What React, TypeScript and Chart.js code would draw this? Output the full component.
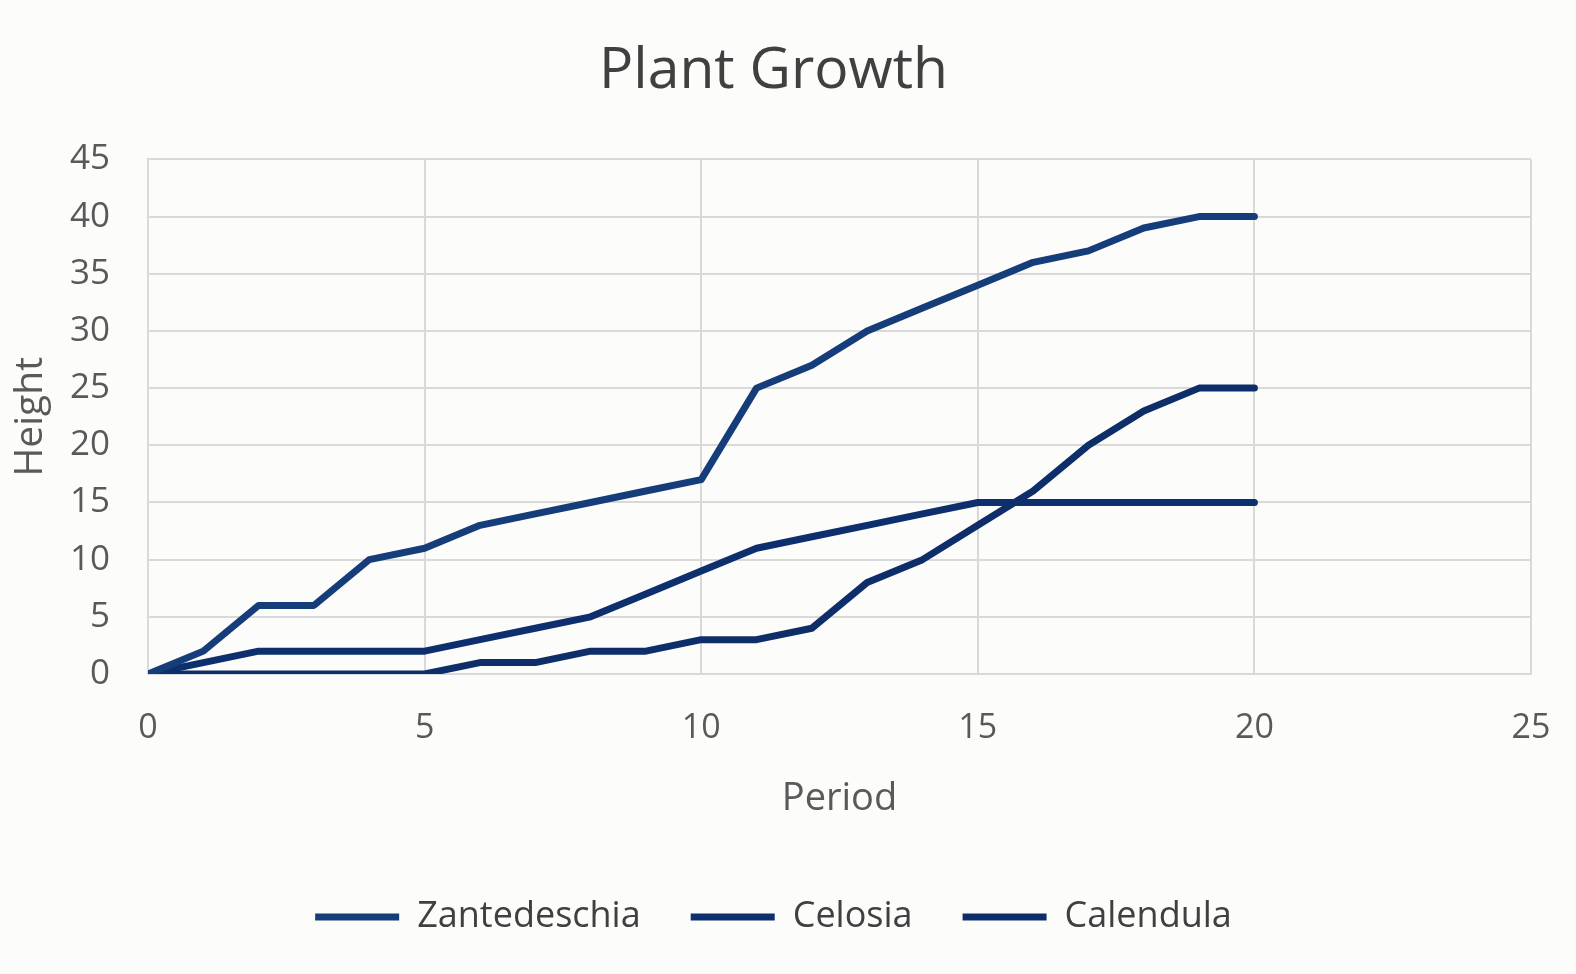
import React, { useEffect, useRef } from "react";
import { Chart, registerables } from "chart.js";

Chart.register(...registerables);

const periods = [0, 1, 2, 3, 4, 5, 6, 7, 8, 9, 10, 11, 12, 13, 14, 15, 16, 17, 18, 19, 20];
const zantedeschia = [0, 2, 6, 6, 10, 11, 13, 14, 15, 16, 17, 25, 27, 30, 32, 34, 36, 37, 39, 40, 40];
const celosia = [0, 1, 2, 2, 2, 2, 3, 4, 5, 7, 9, 11, 12, 13, 14, 15, 15, 15, 15, 15, 15];
const calendula = [0, 0, 0, 0, 0, 0, 1, 1, 2, 2, 3, 3, 4, 8, 10, 13, 16, 20, 23, 25, 25];

const seriesNames = ["Zantedeschia", "Celosia", "Calendula"];
const seriesColors = ["#153D7A", "#0D2F6E", "#0E2E6A"];

const FONT = "'Open Sans', 'DejaVu Sans', sans-serif";

export default function App() {
  const ref = useRef<HTMLCanvasElement | null>(null);

  useEffect(() => {
    if (!ref.current) return;
    const values = [zantedeschia, celosia, calendula];
    const bgPlugin = {
      id: "bg",
      beforeDraw(chart: any) {
        const ctx = chart.ctx;
        ctx.save();
        ctx.fillStyle = "#FCFCFA";
        ctx.fillRect(0, 0, chart.width, chart.height);
        ctx.restore();
      },
    };
    const chart = new Chart(ref.current, {
      type: "line",
      data: {
        datasets: seriesNames.map((name, i) => ({
          label: name,
          data: periods.map((p, j) => ({ x: p, y: values[i][j] })),
          borderColor: seriesColors[i],
          backgroundColor: seriesColors[i],
          borderWidth: 7,
          pointRadius: 0,
          pointStyle: "line",
          tension: 0,
          borderCapStyle: "round" as const,
          borderJoinStyle: "round" as const,
        })),
      },
      options: {
        animation: false,
        responsive: false,
        devicePixelRatio: 1,
        layout: { padding: { left: 16, right: 45, top: 0, bottom: 29 } },
        plugins: {
          tooltip: { enabled: false },
          title: {
            display: true,
            text: "Plant Growth",
            color: "#404040",
            font: { family: FONT, size: 57, weight: "normal" },
            padding: { top: 38, bottom: 53 },
          },
          legend: {
            position: "bottom",
            labels: {
              color: "#404040",
              font: { family: FONT, size: 36 },
              usePointStyle: true,
              pointStyle: "line",
              pointStyleWidth: 84,
              boxHeight: 7,
              padding: 50,
            },
          },
        },
        scales: {
          x: {
            type: "linear",
            min: 0,
            max: 25,
            ticks: {
              stepSize: 5,
              color: "#595959",
              font: { family: FONT, size: 34 },
              padding: 6,
            },
            grid: { color: "#D9D9D9", lineWidth: 2, drawTicks: true, tickLength: 28, tickColor: "rgba(0,0,0,0)" },
            border: { color: "#D9D9D9", width: 2 },
            title: {
              display: true,
              text: "Period",
              color: "#595959",
              font: { family: FONT, size: 38 },
              padding: { top: 0, bottom: 27 },
            },
            afterFit(scale: any) {
              scale.height = 175;
            },
          },
          y: {
            min: 0,
            max: 45,
            ticks: {
              stepSize: 5,
              color: "#595959",
              font: { family: FONT, size: 35 },
              padding: 6,
            },
            grid: { color: "#D9D9D9", lineWidth: 2, drawTicks: true, tickLength: 32, tickColor: "rgba(0,0,0,0)" },
            border: { color: "#D9D9D9", width: 2 },
            title: {
              display: true,
              text: "Height",
              color: "#595959",
              font: { family: FONT, size: 39 },
              padding: { top: -9, bottom: 0 },
            },
            afterFit(scale: any) {
              scale.width = 132;
            },
          },
        },
      },
      plugins: [bgPlugin],
    });
    return () => chart.destroy();
  }, []);

  return (
    <div style={{ position: "absolute", left: 0, top: 0, width: 1576, height: 974 }}>
      <canvas ref={ref} width={1576} height={974} style={{ display: "block" }} />
    </div>
  );
}
